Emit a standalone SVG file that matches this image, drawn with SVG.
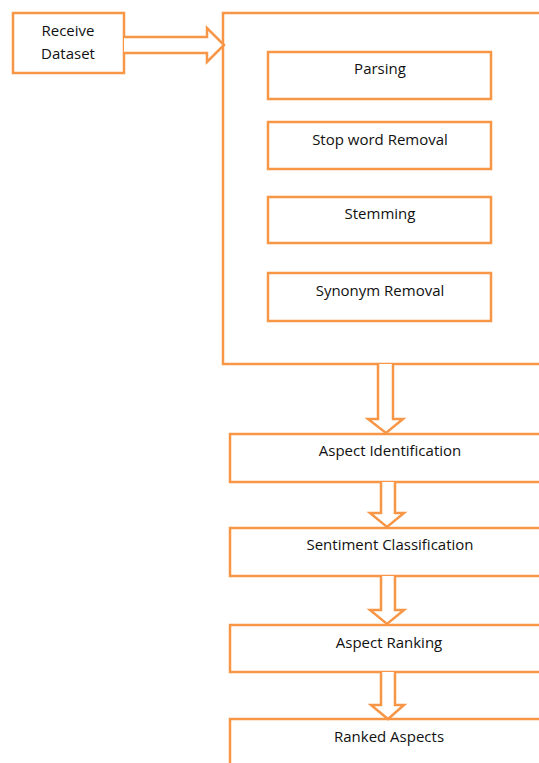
<svg xmlns="http://www.w3.org/2000/svg" width="539" height="763" viewBox="0 0 539 763">
<style>
.box{fill:#fff;stroke:#F79646;stroke-width:2.5}
.arr{fill:#fff;stroke:#F79646;stroke-width:2.5;stroke-linejoin:miter}
.t{font-family:"Open Sans","Liberation Sans",Arial,sans-serif;font-size:15px;fill:#111;text-anchor:middle;dominant-baseline:central}
</style>
<rect width="539" height="763" fill="#fff"/>
<g id="receive">
<rect class="box" x="13" y="13" width="111" height="60"/>
<text class="t" x="68" y="30">Receive</text>
<text class="t" x="68" y="53">Dataset</text>
</g>
<g id="preprocess">
<rect class="box" x="223" y="13" width="330" height="351"/>
</g>
<g id="parsing">
<rect class="box" x="268" y="52" width="223" height="47"/>
<text class="t" x="380" y="68">Parsing</text>
</g>
<g id="stopword">
<rect class="box" x="268" y="122" width="223" height="47"/>
<text class="t" x="380" y="139">Stop word Removal</text>
</g>
<g id="stemming">
<rect class="box" x="268" y="197" width="223" height="46"/>
<text class="t" x="380" y="213">Stemming</text>
</g>
<g id="synonym">
<rect class="box" x="268" y="273" width="223" height="48"/>
<text class="t" x="380" y="290">Synonym Removal</text>
</g>
<g id="aspectid">
<rect class="box" x="230" y="434" width="330" height="48"/>
<text class="t" x="390" y="450">Aspect Identification</text>
</g>
<g id="sentiment">
<rect class="box" x="230" y="528" width="330" height="48"/>
<text class="t" x="390" y="544">Sentiment Classification</text>
</g>
<g id="ranking">
<rect class="box" x="230" y="625" width="330" height="47"/>
<text class="t" x="389" y="642">Aspect Ranking</text>
</g>
<g id="ranked">
<rect class="box" x="230" y="719" width="330" height="60"/>
<text class="t" x="389" y="736">Ranked Aspects</text>
</g>
<g id="connectors">
<path class="arr" d="M124,37 H207 V28 L224,45 L207,62 V53 H124"/>
<path class="arr" d="M378,364 V419 H368 L386,433 L403,419 H393 V364"/>
<path class="arr" d="M381,482 V513 H370 L387,527 L404,513 H395 V482"/>
<path class="arr" d="M381,576 V610 H370 L387,624 L404,610 H395 V576"/>
<path class="arr" d="M381,672 V705 H371 L388,719 L404,705 H395 V672"/>
</g>
</svg>
